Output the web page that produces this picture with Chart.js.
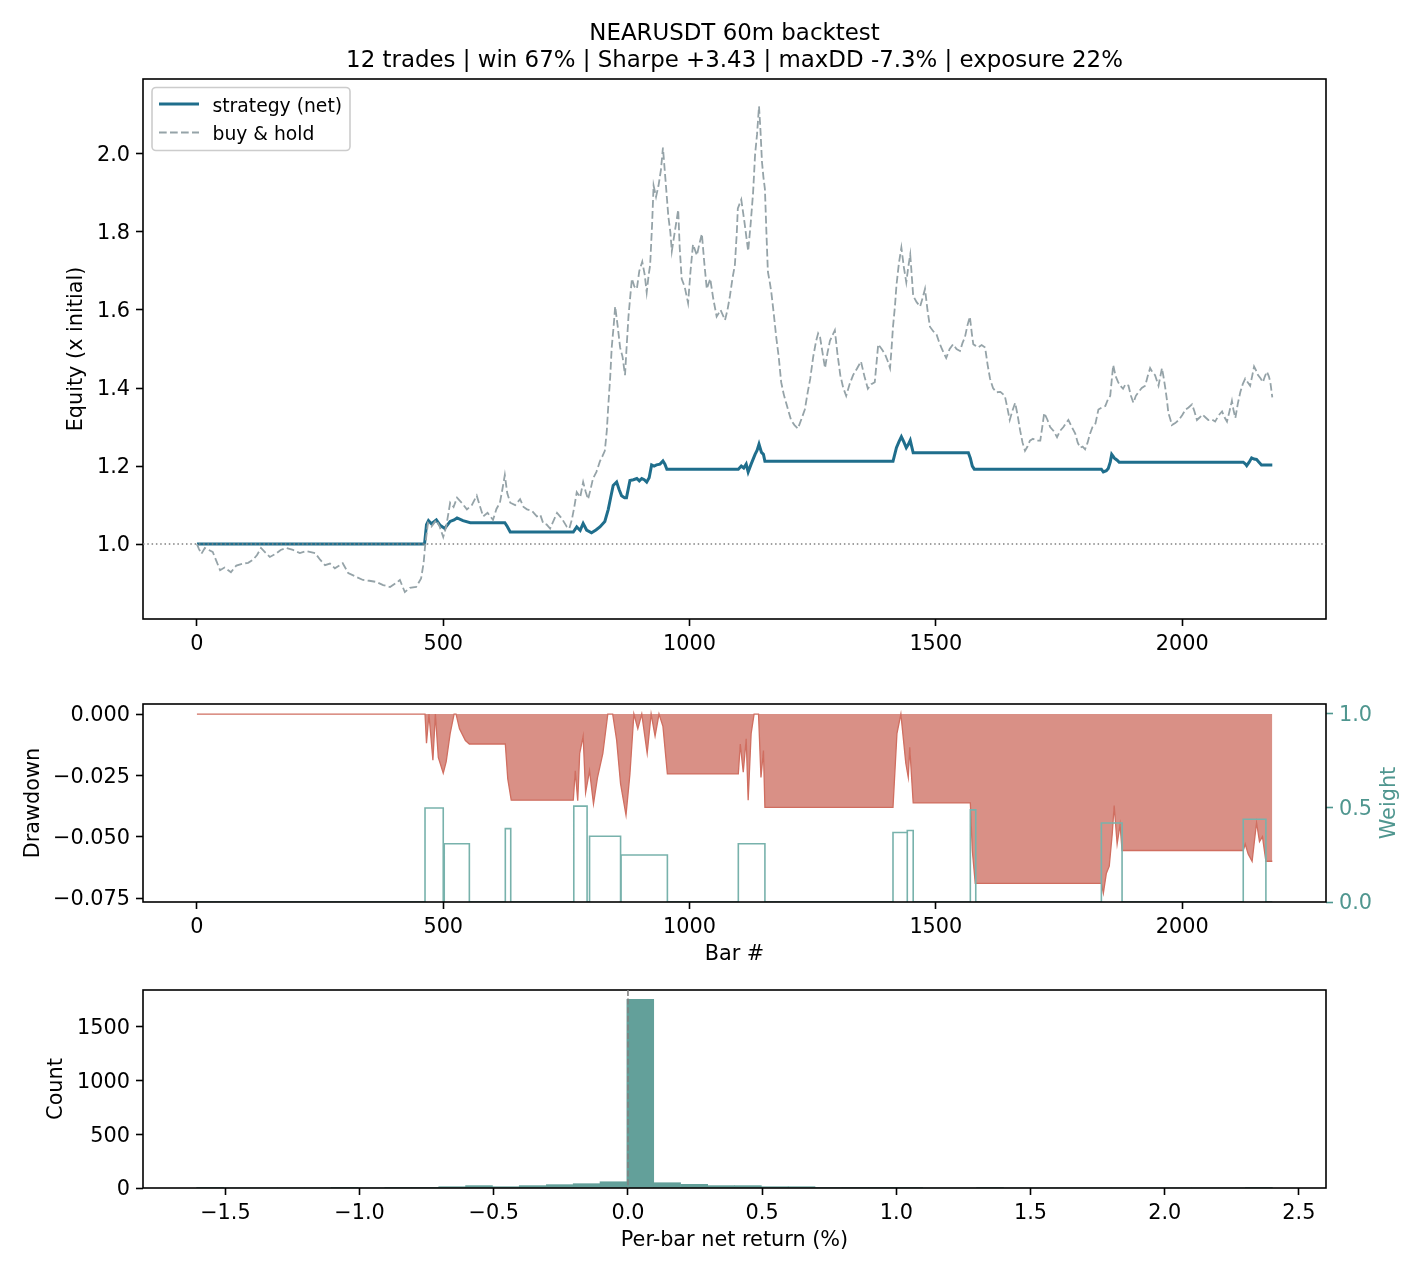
<!DOCTYPE html>
<html>
<head>
<meta charset="utf-8">
<script src="https://cdn.jsdelivr.net/npm/chart.js@4.4.1/dist/chart.umd.min.js"></script>
<style>
  html, body { margin: 0; padding: 0; background: #fff; }
  #wrap { position: relative; width: 1425px; height: 1275px; }
  canvas { position: absolute; left: 0; }
</style>
</head>
<body>
<div id="wrap">
  <canvas id="equity" width="1425" height="680" style="top:0;width:1425px;height:680px"></canvas>
  <canvas id="drawdown" width="1425" height="290" style="top:680px;width:1425px;height:290px"></canvas>
  <canvas id="hist" width="1425" height="315" style="top:960px;width:1425px;height:315px"></canvas>
</div>
<script>
// ===== data =====
const titleLines = ['NEARUSDT 60m backtest', '12 trades | win 67% | Sharpe +3.43 | maxDD -7.3% | exposure 22%'];

// buy & hold equity (bar #, x initial)
const bhBar = [0,4,9,16,24,32,40,47,56,69,80,93,104,114,122,130,139,148,160,170,181,195,209,222,240,250,260,270,280,296,307,320,337,350,364,378,392,404,412,422,432,445,455,460,463,469,476,486,493,500,506,514,521,528,538,548,558,568,575,581,590,601,608,615,620,625,630,636,646,656,663,670,680,690,697,703,710,717,724,731,741,751,756,761,766,771,778,784,789,794,799,804,811,818,823,828,832,835,839,842,846,849,854,859,864,869,872,876,880,883,888,893,898,904,909,913,917,920,924,927,932,937,942,946,951,957,961,964,970,977,980,984,990,997,1002,1007,1015,1020,1025,1030,1035,1042,1048,1055,1063,1072,1077,1082,1087,1092,1096,1098,1105,1112,1119,1124,1129,1133,1137,1141,1144,1147,1150,1153,1156,1159,1163,1166,1171,1176,1181,1186,1191,1196,1201,1206,1213,1220,1227,1234,1240,1245,1251,1257,1261,1265,1270,1275,1280,1285,1290,1295,1300,1306,1312,1318,1325,1332,1340,1348,1355,1362,1369,1376,1380,1383,1390,1397,1402,1407,1410,1413,1417,1420,1425,1430,1435,1440,1444,1448,1451,1454,1461,1468,1473,1478,1483,1488,1495,1501,1506,1511,1516,1521,1528,1535,1542,1549,1554,1559,1564,1569,1573,1576,1581,1586,1593,1600,1605,1610,1616,1623,1631,1640,1645,1650,1655,1661,1666,1671,1676,1681,1686,1691,1697,1704,1712,1716,1720,1726,1732,1739,1746,1752,1759,1764,1769,1776,1783,1788,1793,1798,1803,1808,1813,1818,1824,1830,1837,1844,1849,1854,1857,1860,1865,1870,1875,1880,1885,1891,1896,1901,1906,1911,1918,1925,1930,1935,1940,1945,1952,1959,1962,1966,1969,1972,1976,1979,1986,1993,2000,2007,2013,2020,2025,2030,2036,2041,2047,2053,2060,2067,2074,2081,2086,2091,2096,2101,2104,2108,2113,2118,2123,2128,2133,2138,2142,2146,2150,2154,2159,2164,2168,2172,2176,2179,2183];
const bhVal = [1.000,0.988,0.975,0.990,0.985,0.980,0.955,0.933,0.940,0.928,0.945,0.950,0.952,0.960,0.972,0.990,0.978,0.967,0.975,0.985,0.990,0.985,0.977,0.982,0.977,0.960,0.946,0.950,0.938,0.951,0.926,0.918,0.908,0.906,0.903,0.895,0.890,0.900,0.908,0.877,0.888,0.890,0.912,0.950,0.993,1.054,1.045,1.062,1.044,1.018,1.045,1.106,1.095,1.119,1.105,1.089,1.100,1.124,1.095,1.071,1.080,1.062,1.090,1.106,1.140,1.177,1.130,1.106,1.100,1.115,1.095,1.089,1.085,1.071,1.075,1.053,1.050,1.040,1.060,1.080,1.065,1.044,1.040,1.062,1.095,1.133,1.120,1.159,1.135,1.115,1.140,1.168,1.185,1.212,1.225,1.239,1.290,1.354,1.430,1.504,1.560,1.609,1.560,1.504,1.480,1.433,1.500,1.583,1.640,1.680,1.660,1.654,1.700,1.724,1.690,1.645,1.690,1.715,1.820,1.919,1.890,1.919,1.960,2.016,1.936,1.839,1.800,1.751,1.800,1.857,1.760,1.680,1.660,1.618,1.700,1.768,1.740,1.770,1.795,1.720,1.654,1.680,1.630,1.583,1.600,1.574,1.600,1.636,1.680,1.715,1.800,1.860,1.883,1.820,1.751,1.820,1.901,1.998,2.050,2.122,2.060,1.980,1.940,1.910,1.800,1.698,1.670,1.645,1.590,1.530,1.480,1.415,1.385,1.362,1.340,1.318,1.305,1.296,1.320,1.345,1.390,1.424,1.480,1.521,1.540,1.530,1.490,1.451,1.490,1.521,1.535,1.548,1.490,1.433,1.400,1.380,1.410,1.433,1.450,1.468,1.430,1.398,1.410,1.415,1.470,1.512,1.500,1.486,1.470,1.451,1.500,1.557,1.610,1.663,1.720,1.760,1.710,1.671,1.710,1.742,1.690,1.636,1.620,1.609,1.630,1.654,1.600,1.557,1.545,1.539,1.520,1.504,1.490,1.477,1.500,1.512,1.500,1.495,1.515,1.530,1.560,1.583,1.540,1.512,1.508,1.504,1.510,1.504,1.460,1.424,1.400,1.389,1.390,1.380,1.350,1.318,1.340,1.362,1.330,1.292,1.260,1.239,1.250,1.265,1.270,1.265,1.265,1.300,1.336,1.320,1.300,1.290,1.274,1.290,1.300,1.310,1.318,1.300,1.283,1.260,1.247,1.250,1.243,1.260,1.283,1.300,1.309,1.345,1.350,1.354,1.370,1.380,1.420,1.459,1.430,1.415,1.405,1.398,1.410,1.406,1.380,1.362,1.380,1.389,1.400,1.406,1.430,1.451,1.440,1.433,1.406,1.451,1.430,1.398,1.370,1.336,1.320,1.305,1.310,1.318,1.330,1.345,1.350,1.358,1.340,1.318,1.325,1.332,1.325,1.318,1.320,1.314,1.330,1.340,1.325,1.314,1.340,1.367,1.345,1.323,1.360,1.389,1.410,1.424,1.415,1.406,1.430,1.455,1.445,1.433,1.425,1.415,1.430,1.442,1.430,1.415,1.376];

// strategy (net) equity
const stBar = [0,462,466,470,476,480,486,493,503,514,522,528,540,555,625,630,636,764,771,778,784,791,801,810,818,828,835,840,845,852,857,862,868,872,879,886,893,898,903,908,913,918,923,928,933,940,946,950,954,1099,1105,1110,1115,1119,1125,1133,1137,1141,1146,1150,1153,1413,1420,1425,1430,1435,1440,1444,1448,1451,1454,1566,1570,1574,1578,1836,1840,1846,1850,1854,1857,1860,1862,1868,1872,2124,2128,2131,2136,2141,2146,2151,2156,2161,2170,2183];
const stVal = [1.000,1.000,1.050,1.060,1.052,1.056,1.062,1.049,1.040,1.058,1.062,1.067,1.060,1.055,1.055,1.045,1.031,1.031,1.044,1.035,1.053,1.036,1.029,1.036,1.044,1.058,1.089,1.120,1.150,1.159,1.140,1.124,1.119,1.119,1.163,1.165,1.168,1.162,1.168,1.165,1.159,1.170,1.203,1.200,1.203,1.205,1.213,1.205,1.192,1.192,1.200,1.195,1.205,1.185,1.205,1.230,1.240,1.256,1.235,1.230,1.212,1.212,1.247,1.262,1.275,1.262,1.247,1.255,1.266,1.250,1.234,1.234,1.220,1.200,1.192,1.192,1.185,1.188,1.194,1.210,1.230,1.225,1.221,1.215,1.210,1.210,1.206,1.201,1.210,1.221,1.218,1.217,1.210,1.203,1.203,1.203];

// drawdown of the strategy
const ddBar = [0,463,466,471,479,484,490,500,506,514,522,526,533,545,553,626,631,638,764,768,773,777,784,789,797,805,813,824,834,844,852,860,871,879,887,895,903,914,922,930,938,946,955,1099,1103,1109,1115,1119,1125,1131,1140,1145,1150,1153,1413,1421,1429,1433,1439,1444,1447,1454,1570,1574,1580,1836,1840,1846,1852,1858,1862,1868,1874,1878,2124,2128,2134,2142,2151,2157,2163,2170,2183];
const ddVal = [0,0,-0.0119,0,-0.0188,0,-0.0177,-0.0241,-0.0194,-0.0080,0,0,-0.0060,-0.0108,-0.0122,-0.0122,-0.0264,-0.0351,-0.0351,-0.0231,-0.0353,-0.0160,-0.0090,-0.0320,-0.0231,-0.0366,-0.0260,-0.0160,0,0,-0.0106,-0.0285,-0.0412,-0.0244,0,-0.0060,0,-0.0160,0,-0.0090,0,-0.0050,-0.0244,-0.0244,-0.0122,-0.0237,-0.0101,-0.0351,-0.0080,0,0,-0.0258,-0.0149,-0.0380,-0.0380,-0.0080,0,-0.0080,-0.0200,-0.0258,-0.0135,-0.0362,-0.0362,-0.0556,-0.0690,-0.0690,-0.0730,-0.0650,-0.0620,-0.0490,-0.0373,-0.0530,-0.0450,-0.0556,-0.0556,-0.0530,-0.0570,-0.0600,-0.0442,-0.0520,-0.0500,-0.0600,-0.0600];

// position weight per trade
const tradeStart  = [463, 502, 626, 765, 797, 861, 1099, 1413, 1442, 1570, 1836, 2124];
const tradeEnd    = [500, 553, 637, 792, 860, 955, 1153, 1442, 1454, 1581, 1878, 2170];
const tradeWeight = [0.50, 0.31, 0.39, 0.51, 0.35, 0.25, 0.31, 0.37, 0.38, 0.49, 0.42, 0.44];
const lastBar = 2183;

// per-bar net return histogram (%)
const binCenter = [-1.557,-1.457,-1.356,-1.256,-1.156,-1.056,-0.956,-0.856,-0.755,-0.655,-0.555,-0.455,-0.355,-0.254,-0.154,-0.054,0.046,0.146,0.247,0.347,0.447,0.547,0.647,0.748,0.848,0.948,1.048,1.148,1.249,1.349,1.449,1.549,1.649,1.750,1.850,1.950,2.050,2.150,2.251,2.351];
const binCount  = [1,0,0,0,0,1,0,2,3,12,22,12,22,31,40,58,1750,49,34,22,22,12,12,4,2,1,1,0,0,1,0,0,0,0,0,0,0,0,0,1];

// tick values / labels
const eqXTicks = [0, 500, 1000, 1500, 2000];
const eqXLabels = ['0', '500', '1000', '1500', '2000'];
const eqYTicks = [1.0, 1.2, 1.4, 1.6, 1.8, 2.0];
const eqYLabels = ['1.0', '1.2', '1.4', '1.6', '1.8', '2.0'];
const ddYTicks = [0, -0.025, -0.05, -0.075];
const ddYLabels = ['0.000', '\u22120.025', '\u22120.050', '\u22120.075'];
const wYTicks = [0, 0.5, 1.0];
const wYLabels = ['0.0', '0.5', '1.0'];
const histXTicks = [-1.5, -1, -0.5, 0, 0.5, 1, 1.5, 2, 2.5];
const histXLabels = ['\u22121.5', '\u22121.0', '\u22120.5', '0.0', '0.5', '1.0', '1.5', '2.0', '2.5'];
const histYTicks = [0, 500, 1000, 1500];
const histYLabels = ['0', '500', '1000', '1500'];

// ===== styling =====
const TICK_PX = 20.8;
const LABEL_PX = 20.8;
const C_STRAT = '#1f6e8c';
const C_BH = '#95a3a8';
const C_DD_FILL = 'rgb(217,144,134)';
const C_DD_LINE = 'rgb(208,110,96)';
const C_W = 'rgb(120,178,172)';
const C_W_AXIS = '#4f968f';
const C_HIST = 'rgb(99,160,154)';

Chart.defaults.font.family = 'DejaVu Sans';
Chart.defaults.font.size = TICK_PX;
Chart.defaults.color = '#000';
Chart.defaults.animation = false;
Chart.defaults.plugins.legend.display = false;
Chart.defaults.plugins.tooltip.enabled = false;

const pts = (xs, ys) => xs.map((x, i) => ({ x, y: ys[i] }));

function weightPoints() {
  const out = [{ x: 0, y: 0 }];
  tradeStart.forEach((s, i) => {
    out.push({ x: s, y: tradeWeight[i] });
    out.push({ x: tradeEnd[i], y: 0 });
  });
  out.push({ x: lastBar, y: 0 });
  return out;
}

function fixedTicks(values) {
  return scale => { scale.ticks = values.map(v => ({ value: v })); };
}
function labelFrom(values, labels) {
  return v => {
    const i = values.findIndex(t => Math.abs(t - v) < 1e-9);
    return i >= 0 ? labels[i] : '';
  };
}

function axis(opts) {
  const horiz = opts.position === 'bottom';
  const color = opts.color || '#000';
  return {
    type: 'linear',
    position: opts.position,
    min: opts.min, max: opts.max,
    offset: false,
    afterBuildTicks: fixedTicks(opts.ticks),
    afterFit: s => { if (horiz) s.height = opts.size; else s.width = opts.size; },
    grid: { display: true, offset: false, drawOnChartArea: false, drawTicks: true, tickLength: 7, tickWidth: 1.6, tickColor: color },
    border: { display: false },
    ticks: {
      callback: labelFrom(opts.ticks, opts.labels),
      padding: 6, autoSkip: false, maxRotation: 0, color,
      labelOffset: horiz ? 0 : 2,
      font: { size: TICK_PX }
    },
    title: opts.title ? {
      display: true, text: opts.title, color,
      font: { size: LABEL_PX },
      padding: horiz ? { top: 0, bottom: opts.titlePad } : { top: opts.titlePad, bottom: 0 }
    } : { display: false }
  };
}

const framePlugin = {
  id: 'frame',
  afterDatasetsDraw(chart) {
    const { ctx, chartArea: a } = chart;
    ctx.save();
    ctx.strokeStyle = '#000';
    ctx.lineWidth = 1.6;
    ctx.strokeRect(a.left, a.top, a.right - a.left, a.bottom - a.top);
    ctx.restore();
  }
};

// ===== equity panel =====
new Chart(document.getElementById('equity'), {
  type: 'line',
  data: {
    datasets: [
      { label: 'strategy (net)', data: pts(stBar, stVal), borderColor: C_STRAT, borderWidth: 3, pointRadius: 0, order: 2 },
      { label: 'buy & hold', data: pts(bhBar, bhVal), borderColor: C_BH, borderWidth: 1.8, borderDash: [7.7, 3.3], pointRadius: 0, order: 1 }
    ]
  },
  options: {
    responsive: false,
    layout: { padding: { top: 79, right: 99, left: 0, bottom: 0 } },
    scales: {
      x: axis({ position: 'bottom', min: -109.5, max: 2292, ticks: eqXTicks, labels: eqXLabels, size: 61 }),
      y: axis({ position: 'left', min: 0.808, max: 2.192, ticks: eqYTicks, labels: eqYLabels, size: 143, title: 'Equity (x initial)', titlePad: 64 })
    }
  },
  plugins: [framePlugin, {
    id: 'extras',
    afterDatasetsDraw(chart) {
      const { ctx, chartArea: a, scales } = chart;
      ctx.save();
      // reference line at 1.0
      const y1 = scales.y.getPixelForValue(1.0);
      ctx.strokeStyle = '#808080';
      ctx.lineWidth = 1.5;
      ctx.setLineDash([1.5, 2.8]);
      ctx.beginPath(); ctx.moveTo(a.left, y1); ctx.lineTo(a.right, y1); ctx.stroke();
      ctx.setLineDash([]);
      // title
      ctx.fillStyle = '#000';
      ctx.textAlign = 'center';
      ctx.textBaseline = 'alphabetic';
      ctx.font = '22.9px "DejaVu Sans"';
      const cx = (a.left + a.right) / 2;
      ctx.fillText(titleLines[0], cx, 39.5);
      ctx.fillText(titleLines[1], cx, 66.5);
      // legend
      ctx.fillStyle = 'rgba(255,255,255,0.8)';
      ctx.strokeStyle = '#cccccc';
      ctx.lineWidth = 1.6;
      ctx.beginPath(); ctx.roundRect(152, 87.5, 198, 63, 4); ctx.fill(); ctx.stroke();
      ctx.lineWidth = 3; ctx.strokeStyle = C_STRAT;
      ctx.beginPath(); ctx.moveTo(159, 104); ctx.lineTo(199, 104); ctx.stroke();
      ctx.lineWidth = 1.8; ctx.strokeStyle = C_BH; ctx.setLineDash([7.7, 3.3]);
      ctx.beginPath(); ctx.moveTo(159, 132.5); ctx.lineTo(199, 132.5); ctx.stroke();
      ctx.setLineDash([]);
      ctx.fillStyle = '#000';
      ctx.textAlign = 'left';
      ctx.font = '18.75px "DejaVu Sans"';
      ctx.fillText('strategy (net)', 212.5, 111.5);
      ctx.fillText('buy & hold', 212.5, 139.5);
      ctx.restore();
    }
  }]
});

// ===== drawdown / weight panel =====
new Chart(document.getElementById('drawdown'), {
  type: 'line',
  data: {
    datasets: [
      { label: 'drawdown', data: pts(ddBar, ddVal), borderColor: C_DD_LINE, backgroundColor: C_DD_FILL, fill: 'origin', borderWidth: 1.3, pointRadius: 0, yAxisID: 'y', order: 2 },
      { label: 'weight', data: weightPoints(), borderColor: C_W, borderWidth: 1.6, stepped: true, pointRadius: 0, yAxisID: 'y2', order: 1 }
    ]
  },
  options: {
    responsive: false,
    layout: { padding: { top: 24, right: 0, left: 0, bottom: 0 } },
    scales: {
      x: axis({ position: 'bottom', min: -109.5, max: 2292, ticks: eqXTicks, labels: eqXLabels, size: 68, title: 'Bar #', titlePad: 2.5 }),
      y: axis({ position: 'left', min: -0.0766, max: 0.0041, ticks: ddYTicks, labels: ddYLabels, size: 143, title: 'Drawdown', titlePad: 21 }),
      y2: axis({ position: 'right', min: 0, max: 1.053, ticks: wYTicks, labels: wYLabels, size: 99, color: C_W_AXIS })
    }
  },
  plugins: [framePlugin, {
    id: 'weightLabel',
    afterDraw(chart) {
      const { ctx, chartArea: a } = chart;
      ctx.save();
      ctx.translate(1390, (a.top + a.bottom) / 2);
      ctx.rotate(-Math.PI / 2);
      ctx.fillStyle = C_W_AXIS;
      ctx.textAlign = 'center';
      ctx.textBaseline = 'middle';
      ctx.font = LABEL_PX + 'px "DejaVu Sans"';
      ctx.fillText('Weight', 0, 0);
      ctx.restore();
    }
  }]
});

// ===== return histogram =====
new Chart(document.getElementById('hist'), {
  type: 'bar',
  data: {
    datasets: [{ label: 'count', data: pts(binCenter, binCount), backgroundColor: C_HIST, borderWidth: 0, barPercentage: 1, categoryPercentage: 1 }]
  },
  options: {
    responsive: false,
    layout: { padding: { top: 30, right: 99, left: 0, bottom: 0 } },
    scales: {
      x: axis({ position: 'bottom', min: -1.807, max: 2.601, ticks: histXTicks, labels: histXLabels, size: 87, title: 'Per-bar net return (%)', titlePad: 22 }),
      y: axis({ position: 'left', min: 0, max: 1837, ticks: histYTicks, labels: histYLabels, size: 143, title: 'Count', titlePad: 44 })
    }
  },
  plugins: [framePlugin, {
    id: 'zeroLine',
    afterDatasetsDraw(chart) {
      const { ctx, chartArea: a, scales } = chart;
      const x0 = scales.x.getPixelForValue(0);
      ctx.save();
      ctx.strokeStyle = '#808080';
      ctx.lineWidth = 1.6;
      ctx.setLineDash([6, 2.6]);
      ctx.beginPath(); ctx.moveTo(x0, a.top); ctx.lineTo(x0, a.bottom); ctx.stroke();
      ctx.restore();
    }
  }]
});
</script>
</body>
</html>
